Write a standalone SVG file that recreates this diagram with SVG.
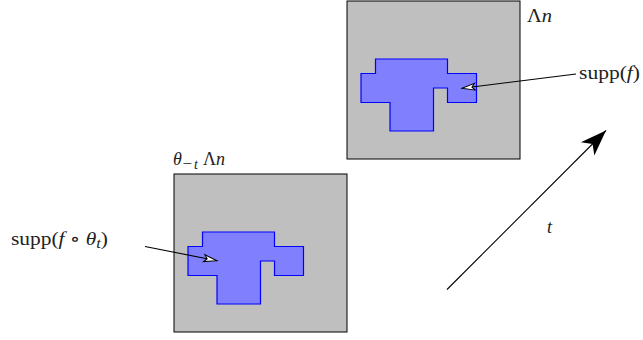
<svg xmlns="http://www.w3.org/2000/svg" width="643" height="340" viewBox="0 0 643 340">
<style>
.box{fill:#bfbfbf;stroke:#000;stroke-width:1}
.blob{fill:#8080ff;stroke:#0000ff;stroke-width:1.2}
.lbl{font-family:"Liberation Serif","DejaVu Serif",serif;font-size:18px;fill:#222}
.it{font-style:italic}
.conn{stroke:#000;stroke-width:1.1;fill:none}
</style>
<defs>
<marker id="open" markerUnits="userSpaceOnUse" markerWidth="20" markerHeight="12" viewBox="-15 -6 16 12" refX="0" refY="0" orient="auto">
<path d="M0,0 L-13,-3.5 L-10,0 L-13,3.5 Z" fill="#fff" stroke="#000" stroke-width="1"/>
</marker>
<marker id="stealth" markerUnits="userSpaceOnUse" markerWidth="30" markerHeight="24" viewBox="-28 -12 30 24" refX="0" refY="0" orient="auto">
<path d="M0,0 L-26,-9.5 L-19,0 L-26,9.5 Z" fill="#000"/>
</marker>
</defs>
<g id="box-top">
<rect class="box" x="347" y="1" width="173" height="158"/>
<polygon class="blob" points="361,73.5 375.5,73.5 375.5,59 447.5,59 447.5,73.5 476.5,73.5 476.5,102.5 447.5,102.5 447.5,88 433.5,88 433.5,131 390,131 390,102.5 361,102.5"/>
<text class="lbl" x="527" y="22" textLength="25" lengthAdjust="spacingAndGlyphs">Λ<tspan class="it">n</tspan></text>
</g>
<g id="box-bottom">
<rect class="box" x="174" y="174" width="173" height="158"/>
<polygon class="blob" points="188,246.5 202.5,246.5 202.5,232 274.5,232 274.5,246.5 303.5,246.5 303.5,275.5 274.5,275.5 274.5,261 260.5,261 260.5,304 217,304 217,275.5 188,275.5"/>
<text class="lbl" x="173" y="165"><tspan class="it">θ</tspan><tspan font-size="17" x="182.5" y="169">−</tspan><tspan class="it" font-size="14" x="194" y="169">t</tspan><tspan x="203" y="165">Λ</tspan><tspan class="it">n</tspan></text>
</g>
<g id="label-supp-f">
<text class="lbl" x="579" y="79" textLength="61" lengthAdjust="spacingAndGlyphs">supp(<tspan class="it">f</tspan>)</text>
</g>
<g id="label-supp-fo">
<text class="lbl" x="11" y="245" textLength="97" lengthAdjust="spacingAndGlyphs">supp(<tspan class="it">f</tspan> ∘ <tspan class="it">θ</tspan><tspan class="it" font-size="14" dy="3">t</tspan><tspan dy="-3">)</tspan></text>
</g>
<g id="label-t">
<text class="lbl it" x="547" y="233">t</text>
</g>
<g id="connectors">
<line class="conn" x1="576" y1="74" x2="462" y2="88.3" marker-end="url(#open)"/>
<line class="conn" x1="145" y1="246.5" x2="217" y2="260.7" marker-end="url(#open)"/>
<line class="conn" x1="447" y1="289.5" x2="606" y2="130.5" marker-end="url(#stealth)"/>
</g>
</svg>
